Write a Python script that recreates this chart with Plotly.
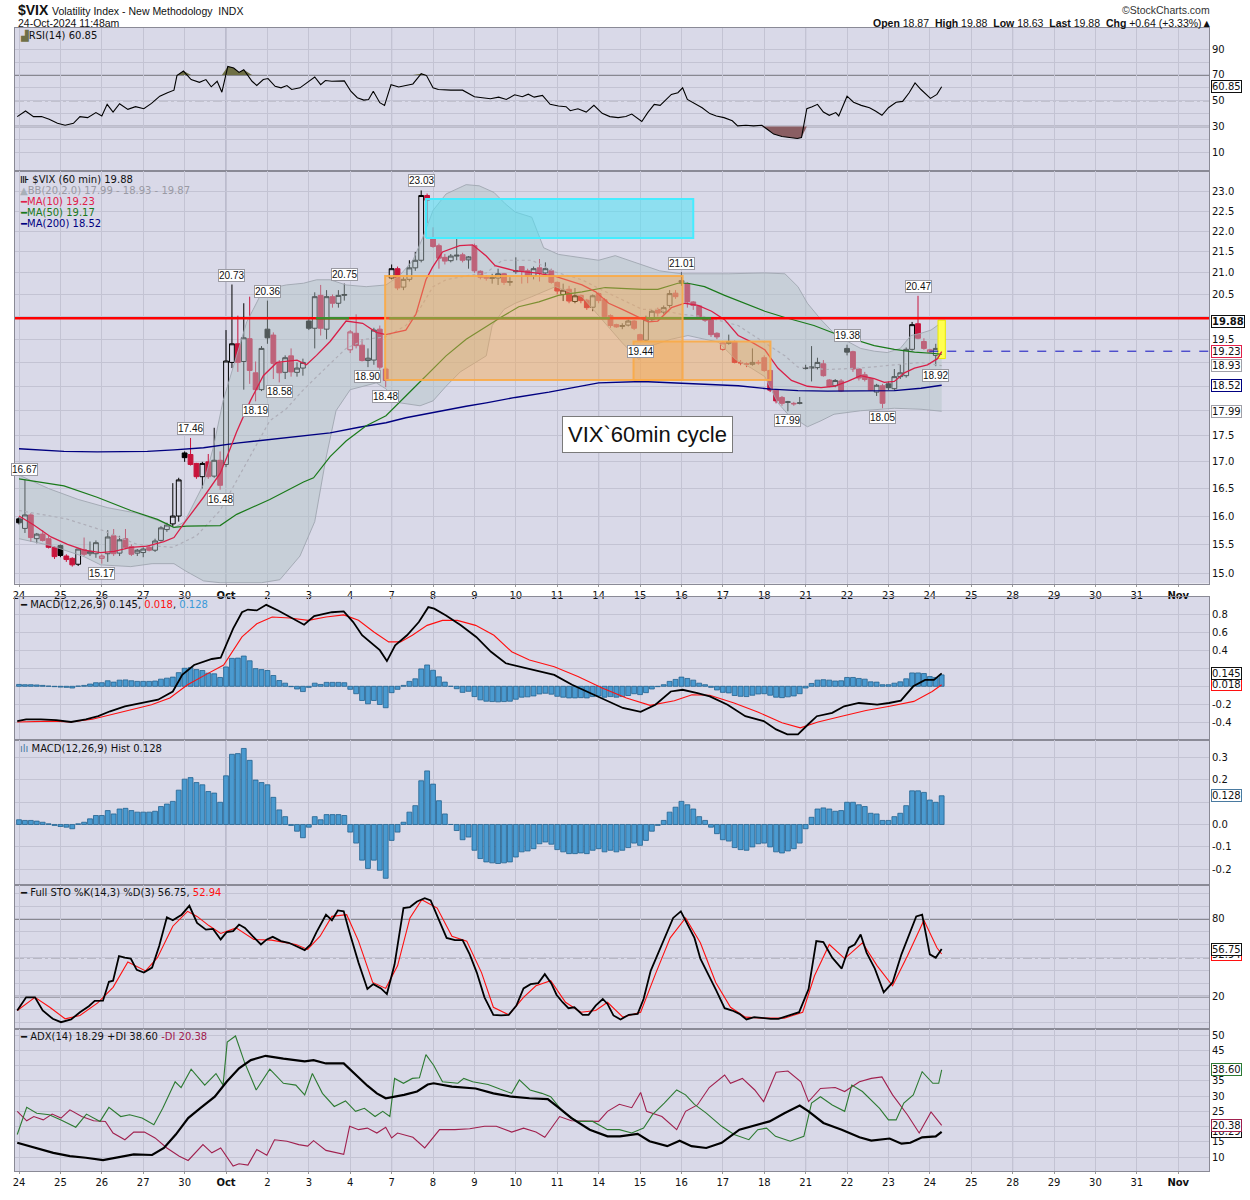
import numpy as np
import plotly.graph_objects as go

# ============================ DATA ============================
day_labels = ["24", "25", "26", "27", "30", "Oct", "2", "3", "4", "7", "8", "9", "10", "11",
              "14", "15", "16", "17", "18", "21", "22", "23", "24", "25", "28", "29", "30", "31", "Nov"]
bold_labels = ["Oct", "Nov"]
strong_labels = ["Oct", "7", "14", "21", "28"]
bars_per_day = 7

# 60-min OHLC of $VIX (one row = one trading day)
open_ = [15.95, 15.78, 16.02, 15.60, 15.68, 15.60, 15.45,
         15.48, 15.30, 15.26, 15.16, 15.41, 15.34, 15.34,
         15.26, 15.34, 15.65, 15.35, 15.60, 15.46, 15.35,
         15.36, 15.45, 15.40, 15.57, 15.76, 15.86, 16.00,
         17.17, 17.14, 16.97, 16.72, 17.00, 16.73, 17.03,
         16.95, 19.00, 19.40, 19.02, 19.51, 18.78, 18.43,
         19.72, 19.59, 18.99, 18.79, 19.14, 18.79, 18.88,
         19.90, 19.74, 20.48, 19.72, 20.45, 20.30, 20.48,
         19.27, 19.63, 19.37, 19.04, 19.05, 19.72, 18.86,
         20.88, 21.10, 20.67, 20.85, 21.12, 21.30, 22.90,
         21.82, 21.65, 21.37, 21.29, 21.40, 21.43, 21.31,
         21.65, 21.04, 20.90, 20.87, 20.88, 20.98, 20.78,
         21.03, 21.15, 21.05, 20.93, 21.12, 21.00, 21.05,
         20.78, 20.50, 20.62, 20.34, 20.48, 20.37, 20.21,
         20.52, 20.38, 20.02, 19.82, 19.78, 19.81, 19.90,
         19.60, 19.48, 19.93, 20.16, 20.10, 20.25, 20.53,
         20.82, 20.75, 20.33, 20.24, 19.95, 19.93, 19.63,
         19.28, 19.41, 19.45, 19.00, 18.97, 18.96, 19.00,
         19.10, 18.83, 18.42, 18.27, 18.17, 18.15, 18.15,
         18.87, 18.88, 18.89, 18.97, 18.63, 18.51, 18.61,
         19.30, 19.23, 18.86, 18.74, 18.66, 18.38, 18.51,
         18.55, 18.45, 18.70, 18.72, 19.28, 19.84, 19.45,
         19.22, 19.15, 19.30]
high_ = [15.98, 16.67, 16.05, 15.70, 15.75, 15.65, 15.47,
         15.50, 15.33, 15.28, 15.43, 15.62, 15.55, 15.57,
         15.33, 15.75, 15.77, 15.65, 15.77, 15.50, 15.42,
         15.45, 15.47, 15.60, 15.82, 15.88, 16.60, 16.70,
         17.20, 17.46, 16.98, 17.00, 17.15, 17.66, 17.20,
         19.70, 20.73, 20.02, 20.30, 20.45, 19.02, 19.35,
         20.36, 19.65, 19.05, 19.15, 19.30, 19.00, 19.08,
         19.95, 20.55, 20.72, 20.60, 20.50, 20.60, 20.75,
         19.70, 20.05, 19.50, 19.30, 19.75, 19.80, 18.90,
         21.20, 21.15, 20.90, 21.30, 21.50, 23.03, 22.95,
         22.10, 21.70, 21.45, 21.45, 21.83, 21.48, 21.40,
         21.70, 21.06, 20.95, 20.98, 21.10, 21.00, 20.90,
         21.37, 21.16, 21.10, 21.15, 21.33, 21.25, 21.10,
         20.80, 20.75, 20.70, 20.65, 20.50, 20.40, 20.50,
         20.55, 20.42, 20.05, 19.84, 19.85, 19.93, 19.92,
         19.62, 20.02, 20.15, 20.20, 20.25, 20.60, 20.60,
         21.01, 20.78, 20.35, 20.26, 19.97, 19.95, 19.65,
         19.45, 19.60, 19.47, 19.05, 19.00, 19.30, 19.05,
         19.15, 18.85, 18.44, 18.30, 18.20, 18.18, 18.28,
         18.95, 19.35, 19.10, 19.05, 18.65, 18.65, 18.65,
         19.38, 19.25, 18.88, 18.80, 18.68, 18.55, 18.55,
         18.60, 18.86, 18.95, 19.32, 19.88, 20.47, 19.52,
         19.29, 19.40, 19.88]
low_ = [15.85, 15.70, 15.55, 15.52, 15.55, 15.43, 15.25,
        15.28, 15.20, 15.12, 15.13, 15.30, 15.30, 15.27,
        15.17, 15.20, 15.30, 15.30, 15.42, 15.30, 15.30,
        15.28, 15.38, 15.37, 15.55, 15.72, 15.82, 15.90,
        17.00, 16.93, 16.68, 16.50, 16.68, 16.70, 16.48,
        16.90, 18.88, 18.80, 18.43, 18.55, 18.19, 18.40,
        19.40, 18.65, 18.58, 18.65, 18.70, 18.70, 18.72,
        19.70, 19.30, 19.58, 19.50, 20.20, 20.20, 20.36,
        19.20, 19.30, 19.02, 18.90, 18.95, 18.85, 18.48,
        20.85, 20.60, 20.60, 20.80, 21.05, 21.25, 22.20,
        21.60, 21.10, 21.20, 21.25, 21.30, 21.25, 21.10,
        21.00, 20.85, 20.82, 20.75, 20.72, 20.72, 20.70,
        20.98, 20.75, 20.76, 20.85, 20.80, 20.98, 20.75,
        20.50, 20.35, 20.30, 20.30, 20.30, 20.15, 20.12,
        20.30, 19.95, 19.75, 19.75, 19.72, 19.78, 19.70,
        19.44, 19.45, 19.90, 20.00, 20.05, 20.20, 20.40,
        20.70, 20.20, 20.15, 19.95, 19.88, 19.55, 19.50,
        19.25, 19.38, 18.98, 18.94, 18.90, 18.93, 18.95,
        18.80, 18.38, 18.15, 18.10, 17.99, 18.10, 18.13,
        18.85, 18.60, 18.85, 18.70, 18.48, 18.48, 18.38,
        19.15, 18.80, 18.62, 18.60, 18.40, 18.30, 18.05,
        18.42, 18.42, 18.65, 18.68, 19.25, 19.50, 19.27,
        19.20, 18.92, 19.12]
close_ = [15.88, 16.02, 15.62, 15.68, 15.57, 15.45, 15.29,
          15.31, 15.24, 15.15, 15.42, 15.33, 15.38, 15.53,
          15.30, 15.63, 15.34, 15.58, 15.45, 15.33, 15.40,
          15.42, 15.40, 15.56, 15.79, 15.84, 16.00, 16.66,
          17.08, 16.95, 16.72, 16.97, 16.72, 17.03, 16.56,
          19.03, 19.40, 19.00, 19.53, 18.83, 18.43, 19.30,
          19.53, 18.98, 18.78, 19.10, 18.80, 18.88, 19.00,
          19.74, 20.45, 19.74, 20.45, 20.30, 20.48, 20.50,
          19.66, 19.36, 19.04, 19.09, 19.70, 18.90, 18.62,
          21.10, 20.65, 20.85, 21.12, 21.30, 22.90, 22.78,
          21.63, 21.35, 21.28, 21.40, 21.42, 21.30, 21.38,
          21.05, 20.90, 20.88, 20.89, 20.98, 20.78, 20.80,
          21.05, 21.04, 20.93, 21.10, 21.00, 21.10, 20.78,
          20.58, 20.60, 20.35, 20.47, 20.36, 20.20, 20.47,
          20.36, 20.00, 19.80, 19.77, 19.80, 19.90, 19.74,
          19.47, 19.93, 20.12, 20.08, 20.20, 20.52, 20.45,
          20.78, 20.33, 20.25, 20.00, 19.92, 19.60, 19.55,
          19.42, 19.45, 19.00, 18.99, 18.96, 19.00, 18.99,
          18.83, 18.42, 18.20, 18.15, 18.18, 18.14, 18.16,
          18.88, 18.90, 19.00, 18.72, 18.50, 18.62, 18.40,
          19.22, 18.86, 18.67, 18.64, 18.42, 18.52, 18.15,
          18.47, 18.70, 18.78, 19.28, 19.82, 19.52, 19.30,
          19.27, 19.30, 19.88]

# overlay lines: (bar position, value)
ma10_pts = [(0, 16.0), (2.5, 15.84), (5.4, 15.63), (8.2, 15.5), (11, 15.4), (13.8, 15.36), (16.1, 15.38),
            (18.9, 15.45), (21.7, 15.47), (24.5, 15.55), (26.2, 15.62), (28.1, 15.9), (31.2, 16.34),
            (34.0, 16.78), (35.1, 17.08), (36.8, 17.58), (39.1, 18.2), (41.3, 18.72), (43.6, 19.0),
            (47.0, 19.05), (48.6, 18.95), (50.3, 19.15), (52.6, 19.45), (55.3, 19.9), (58.1, 19.85),
            (60.4, 19.65), (62.0, 19.6), (63.2, 19.63), (65.4, 19.7), (67.1, 20.05), (68.8, 20.84),
            (69.9, 21.13), (71.6, 21.5), (74.5, 21.65), (76.7, 21.67), (79.0, 21.4), (80.5, 21.17),
            (83.9, 21.05), (87.3, 21.0), (90.7, 20.92), (92.9, 20.83), (95.2, 20.72), (97.5, 20.56),
            (99.7, 20.3), (102.0, 20.16), (104.8, 19.98), (106.4, 19.88), (108.0, 19.9), (110.3, 20.2),
            (112.6, 20.3), (114.8, 20.25), (117.1, 20.12), (119.3, 19.93), (121.6, 19.58), (123.8, 19.44),
            (126.1, 19.27), (128.3, 18.88), (130.6, 18.62), (133.3, 18.5), (135.6, 18.47), (137.8, 18.5),
            (140.1, 18.6), (142.3, 18.72), (144.6, 18.66), (146.3, 18.58), (148.0, 18.6), (149.7, 18.78),
            (151.4, 18.88), (153.6, 18.95), (155.3, 19.08), (156, 19.23)]
ma50_pts = [(0, 16.68), (7.6, 16.55), (13.2, 16.34), (18.9, 16.1), (23.4, 15.94), (26.2, 15.8), (28.3, 15.82),
            (34, 15.83), (36.8, 16.03), (42.4, 16.3), (48.1, 16.62), (49.8, 16.7), (52.6, 17.1), (55.3, 17.4),
            (58.7, 17.7), (62.05, 17.9), (65.4, 18.3), (68.8, 18.72), (72.2, 19.14), (75.6, 19.5), (79, 19.78),
            (81.7, 20.0), (84.5, 20.22), (87.9, 20.33), (91.2, 20.48), (95.2, 20.56), (99.1, 20.66),
            (102, 20.64), (105.4, 20.62), (108, 20.62), (111.4, 20.76), (113.1, 20.76), (115.9, 20.68),
            (119.3, 20.48), (122.7, 20.3), (126.1, 20.12), (129.5, 19.98), (131.7, 19.9), (134.4, 19.8),
            (137.8, 19.63), (141.2, 19.5), (144.6, 19.36), (148, 19.28), (151.4, 19.22), (154.8, 19.19),
            (156, 19.17)]
ma200_pts = [(0, 17.25), (7.6, 17.2), (13.2, 17.19), (21.7, 17.2), (26.2, 17.23), (31.2, 17.27), (36.8, 17.36),
             (42.4, 17.43), (48.1, 17.5), (52.6, 17.56), (57.5, 17.67), (62.05, 17.76), (65.4, 17.86),
             (68.8, 17.94), (72.2, 18.02), (75.6, 18.09), (79, 18.16), (83.9, 18.27), (89.6, 18.38),
             (95.2, 18.51), (98, 18.57), (105.4, 18.6), (109.6, 18.58), (115.9, 18.55), (121.6, 18.51),
             (127.2, 18.44), (131.7, 18.41), (136.7, 18.4), (145.1, 18.4), (148, 18.41), (152.5, 18.46),
             (156, 18.52)]
bb_upper_pts = [(0, 16.75), (5, 16.5), (10, 16.3), (15, 16.15), (20, 16.05), (24, 15.9), (26.2, 15.79),
                (28, 15.9), (31.2, 16.58), (32.9, 17.3), (34.5, 18.2), (36.8, 19.14), (38.5, 19.88),
                (39.6, 20.16), (40.8, 20.48), (42.4, 20.64), (45.2, 20.72), (48.1, 20.76), (50.3, 20.84),
                (52.6, 20.84), (55.3, 20.72), (58.7, 20.68), (62.05, 20.72), (64.3, 20.93), (66.6, 21.3),
                (68.3, 21.86), (70, 22.52), (72.2, 22.94), (75.6, 23.18), (77.8, 23.15), (79, 23.07),
                (80.3, 22.98), (82.2, 22.69), (83.9, 22.48), (86.7, 22.35), (88.7, 21.6), (91.2, 21.44),
                (98, 21.3), (100.8, 21.41), (105.4, 21.2), (108.3, 21.05), (112, 20.98), (120, 20.98),
                (126, 21.0), (129.5, 20.98), (131.7, 20.68), (133.3, 20.3), (135.6, 19.93), (137.8, 19.63),
                (140.1, 19.45), (142.3, 19.3), (144.6, 19.24), (146.8, 19.21), (149, 19.3), (150.8, 19.58),
                (152.5, 19.63), (154.2, 19.7), (156, 19.87)]
bb_lower_pts = [(0, 15.6), (5.35, 15.48), (11, 15.29), (13.8, 15.15), (18.9, 15.12), (22.5, 15.17),
                (26.2, 15.17), (28.1, 15.05), (31.2, 14.88), (34, 14.85), (41, 14.85), (44.1, 14.9),
                (47.5, 15.3), (50, 15.9), (51.9, 17.07), (53.6, 18.0), (56, 18.43), (60.4, 18.57), (62, 18.45),
                (64.4, 18.16), (67.8, 18.1), (70, 18.2), (72.2, 18.5), (74.6, 18.8), (79, 19.14), (80, 19.8),
                (82, 20.16), (83.9, 20.3), (86.7, 20.45), (90.7, 20.68), (95.2, 20.45), (98.6, 19.93),
                (102, 19.42), (104.8, 19.06), (106.9, 19.36), (110.3, 19.5), (113.1, 19.58), (115.9, 19.5),
                (118.2, 19.44), (121.2, 19.06), (123.8, 18.88), (126.1, 18.7), (128.3, 18.16), (130, 17.93),
                (131.7, 17.8), (133.3, 17.68), (135.6, 17.8), (137.8, 17.93), (142.3, 18.0), (148, 18.05),
                (152.5, 18.03), (156, 17.99)]
bb_mid_pts = [(0, 16.1), (8, 15.95), (14, 15.75), (20, 15.5), (26, 15.45), (30, 15.65), (34, 16.1), (38.5, 17.0),
              (42.4, 17.8), (45.2, 18.04), (48.1, 18.43), (52, 18.9), (55.3, 19.3), (58.7, 19.5), (62, 19.55),
              (65.4, 19.8), (67.7, 20.16), (70, 20.68), (72.2, 20.84), (75.6, 20.93), (79, 21.0), (81.7, 21.3),
              (86.7, 21.3), (90.7, 21.02), (95.2, 20.84), (98.6, 20.6), (102, 20.38), (105.4, 20.16),
              (108, 20.16), (112, 20.05), (115.9, 20.0), (121.6, 19.8), (126.1, 19.42), (129.5, 19.14),
              (131.7, 18.9), (133.3, 18.88), (136.7, 18.85), (142.3, 18.88), (148, 18.95), (152.5, 19.0),
              (156, 18.93)]

resistance_level = 19.96
# parts of the level drawn in green (start bar, end bar)
green_seg_x0 = [50.2, 62.6, 106.0]
green_seg_x1 = [55.8, 99.9, 117.0]
prev_close = 19.24

# annotated zones: start bar, end bar, low, high
zone_x0 = [61.9, 103.9, 68.8]
zone_x1 = [112.2, 127.05, 114.0]
zone_lo = [18.63, 18.63, 21.84]
zone_hi = [20.93, 19.45, 22.81]

note_text = "VIX`60min cycle"
note_pos = (106.3, 17.53)

# price callouts (bar, value, side)
callout_bar = [1, 14, 29, 34, 36, 40, 42, 44, 55, 59, 62, 68, 105, 112, 130, 140, 146, 152, 155]
callout_val = [16.67, 15.17, 17.46, 16.48, 20.73, 18.19, 20.36, 18.58, 20.75, 18.90, 18.48, 23.03, 19.44,
               21.01, 17.99, 19.38, 18.05, 20.47, 18.92]
callout_side = ["hi", "lo", "hi", "lo", "hi", "lo", "hi", "lo", "hi", "lo", "lo", "hi", "lo", "hi", "lo",
                "hi", "lo", "hi", "lo"]

rsi_pts = [(-0.3, 37.7), (1.1, 42), (2.45, 37.7), (3.8, 37.7), (5.1, 35.6), (6.5, 32.5), (7.8, 31), (9.2, 32.5),
           (10.3, 37.7), (11.6, 36.9), (13, 40.8), (14, 38.2), (14.9, 47.2), (15.9, 41.2), (17, 47.7),
           (18.4, 43.3), (19.7, 45.4), (21.1, 43.8), (22.4, 47.9), (23.8, 53.5), (25.1, 56.2), (26.2, 58.2),
           (26.7, 69.5), (27.8, 73), (29.1, 66.4), (30.5, 64.3), (31.6, 66.4), (32.5, 60.8), (33.5, 65.1),
           (34.3, 56.6), (35.3, 76.6), (36.3, 75.4), (37.2, 72), (38, 74), (39.4, 65.1), (40.2, 61.8),
           (41.3, 66.4), (42.1, 67.2), (43.3, 61.2), (44.3, 60), (45.3, 61.8), (46.1, 58.7), (47.5, 60),
           (48.7, 63.8), (50, 68.4), (51, 62.5), (51.8, 65.7), (52.9, 65.1), (55, 65.4), (56.1, 57.4),
           (57.2, 52.3), (58.3, 50.5), (59.1, 51), (59.9, 57.4), (61, 48.5), (61.8, 46.4), (62.9, 62.5),
           (64.2, 60.7), (65.6, 62), (66.6, 63), (68, 71), (68.9, 69.5), (70, 60), (70.9, 58.7), (73, 58.2),
           (75, 58.2), (77, 53.1), (78.4, 52), (79.7, 51.5), (81.1, 52.8), (82.4, 51), (83.8, 54.6),
           (85.1, 53.1), (86.1, 55.1), (87.1, 52.8), (88.5, 54.1), (89.8, 47.2), (91.2, 45.9), (92.5, 45.4),
           (93.2, 42.3), (94.5, 43.8), (95.9, 41.2), (97.2, 46.4), (98.6, 40.2), (99.9, 37.7), (101.3, 36.9),
           (102.6, 37.7), (103.6, 39.7), (104.7, 36.2), (105.3, 33.9), (106.3, 40.8), (107.4, 47.2),
           (108.4, 46.4), (109.4, 51), (110.3, 54.9), (111.4, 56.2), (112.2, 60), (113, 51), (114.1, 47.9),
           (115.5, 44.6), (116.8, 40), (117.9, 38.2), (119.2, 36.9), (120.6, 34.4), (121.5, 30.5), (122.9, 31),
           (124.2, 30.5), (125.6, 31), (126.5, 27.9), (127.6, 24.1), (129, 22.3), (130.3, 21.5), (131.6, 20.7),
           (132.3, 21.5), (133.2, 43.8), (134.1, 45.4), (135, 47.2), (136, 41.2), (137, 38.7), (138.1, 40.8),
           (138.6, 38.2), (140, 53.5), (141.1, 48.8), (142.4, 46.4), (143.8, 44.6), (144.8, 42), (145.9, 38.7),
           (147, 44.6), (148.3, 48.8), (149.4, 49.5), (150.5, 56.2), (151.5, 63.8), (152.5, 58.7),
           (154.1, 51.8), (155.2, 54.9), (156, 60.85)]

macd_pts = [(-0.3, -0.39), (1.2, -0.37), (3.7, -0.37), (6.3, -0.38), (8.8, -0.40), (11.3, -0.37), (13.4, -0.335),
            (15.4, -0.28), (17.9, -0.224), (20.5, -0.187), (23.5, -0.15), (26, -0.058), (27.6, 0.128),
            (29.6, 0.239), (32.6, 0.306), (34.1, 0.32), (34.8, 0.424), (36.2, 0.647), (37.7, 0.83), (38.7, 0.86),
            (40.2, 0.85), (41.8, 0.913), (43.8, 0.85), (45.8, 0.776), (48.2, 0.69), (49.9, 0.787), (51.4, 0.81),
            (52.9, 0.83), (54.9, 0.84), (56.5, 0.72), (58, 0.572), (60, 0.46), (61, 0.405), (62.2, 0.283),
            (63.6, 0.46), (65.6, 0.572), (67.6, 0.72), (69.2, 0.887), (70.2, 0.87), (72.2, 0.794), (74.7, 0.683),
            (77.3, 0.553), (79.8, 0.387), (82.3, 0.258), (84.8, 0.22), (87.9, 0.172), (90.5, 0.128),
            (93.5, 0.017), (96.6, -0.076), (99.6, -0.169), (102.1, -0.243), (105.1, -0.287), (107.6, -0.206),
            (110.2, -0.058), (112.2, -0.039), (114.7, -0.076), (116.8, -0.113), (119.8, -0.206),
            (122.8, -0.335), (125.9, -0.39), (128, -0.483), (129.9, -0.539), (131.7, -0.539), (133.4, -0.428),
            (134.9, -0.335), (137.5, -0.298), (139.5, -0.224), (142, -0.187), (145.1, -0.206), (147.1, -0.187),
            (149.1, -0.161), (151.2, 0.0), (153.2, 0.072), (154.7, 0.072), (156, 0.145)]
signal_pts = [(-0.3, -0.40), (5.7, -0.39), (8.7, -0.40), (12.4, -0.37), (17.4, -0.287), (22.4, -0.206),
              (25.5, -0.131), (28.5, 0.017), (31.5, 0.128), (34.6, 0.239), (37.7, 0.553), (40.2, 0.7),
              (42.8, 0.776), (45.8, 0.765), (48.9, 0.739), (51.9, 0.776), (54.9, 0.80), (57.4, 0.739),
              (60, 0.609), (62.5, 0.498), (64.5, 0.498), (66.5, 0.572), (69, 0.683), (71.6, 0.739),
              (74.1, 0.739), (77.2, 0.683), (80.3, 0.572), (83.3, 0.387), (86.3, 0.294), (90.5, 0.22),
              (94.5, 0.109), (98.6, -0.02), (102.7, -0.131), (106.7, -0.213), (110.8, -0.161), (113.8, -0.094),
              (116.8, -0.1), (120.9, -0.187), (124.9, -0.287), (129, -0.409), (132.1, -0.465), (135.1, -0.40),
              (139.1, -0.335), (143.2, -0.272), (147.2, -0.224), (151.3, -0.169), (154.4, -0.058), (156, 0.018)]
macd_hist = [0.021, 0.018, 0.018, 0.015, 0.010, 0.003, -0.004,
             -0.009, -0.012, -0.019, 0.003, 0.010, 0.025, 0.040,
             0.040, 0.062, 0.047, 0.069, 0.072, 0.062, 0.055,
             0.055, 0.055, 0.059, 0.080, 0.091, 0.103, 0.153,
             0.202, 0.209, 0.187, 0.177, 0.147, 0.140, 0.099,
             0.217, 0.313, 0.316, 0.339, 0.286, 0.198, 0.187,
             0.177, 0.121, 0.065, 0.035, -0.004, -0.030, -0.059,
             -0.012, 0.035, 0.021, 0.044, 0.044, 0.044, 0.040,
             -0.034, -0.083, -0.159, -0.196, -0.159, -0.204, -0.240,
             -0.071, -0.034, 0.010, 0.055, 0.084, 0.195, 0.239,
             0.180, 0.106, 0.047, 0.000, -0.027, -0.068, -0.056,
             -0.115, -0.152, -0.167, -0.171, -0.174, -0.171, -0.167,
             -0.145, -0.122, -0.118, -0.108, -0.086, -0.078, -0.088,
             -0.112, -0.122, -0.130, -0.130, -0.127, -0.130, -0.115,
             -0.108, -0.122, -0.115, -0.122, -0.115, -0.103, -0.083,
             -0.093, -0.071, -0.030, -0.004, 0.018, 0.055, 0.077,
             0.103, 0.088, 0.069, 0.035, 0.018, -0.012, -0.041,
             -0.068, -0.074, -0.103, -0.112, -0.115, -0.100, -0.086,
             -0.083, -0.100, -0.122, -0.127, -0.118, -0.108, -0.083,
             -0.019, 0.032, 0.069, 0.074, 0.069, 0.059, 0.062,
             0.099, 0.099, 0.088, 0.080, 0.050, 0.047, 0.018,
             0.018, 0.035, 0.050, 0.084, 0.150, 0.150, 0.143,
             0.109, 0.099, 0.128]

sto_k_pts = [(-0.3, 9.3), (1.2, 19.5), (2.7, 19.5), (4.0, 9.3), (5.7, 2.9), (7.1, 0.3), (8.8, 2.4), (10.3, 8),
             (11.8, 12.6), (12.8, 16.7), (14.2, 16.9), (15.2, 31.5), (15.9, 32.3), (16.9, 51.4), (17.9, 50.1),
             (18.9, 49.4), (19.9, 40.7), (21.1, 38.6), (22.5, 42.5), (23.7, 59.1), (25, 81.3), (26, 79),
             (27.5, 83.3), (28.8, 90.2), (30.1, 76.9), (31.6, 71.8), (32.8, 72.3), (34.1, 64.2), (35.1, 69.8),
             (36.2, 70.6), (37.2, 75.7), (38.2, 73.1), (39.5, 66.7), (40.9, 60.3), (41.9, 64.2), (42.9, 66.2),
             (44.3, 62.9), (45.6, 61.6), (46.8, 59.1), (48.3, 56), (49.3, 60.3), (50.3, 69.8), (51.9, 83.3),
             (52.9, 79), (53.9, 86.6), (54.9, 85.9), (55.9, 69.3), (57.4, 46.3), (58.9, 25.9), (59.9, 29.7),
             (61.2, 26.4), (62.2, 22), (63.5, 45), (65, 88.4), (66.1, 89.2), (67.3, 93.5), (68.6, 96.1),
             (69.6, 94.3), (71.1, 78.2), (72.3, 65.4), (73.7, 63.7), (75, 63.7), (76.2, 52.7), (77.4, 38.6),
             (78.7, 19.5), (80.2, 6), (81.5, 5.5), (82.8, 6), (84.1, 13.1), (85.3, 26.4), (86.5, 29.7),
             (87.8, 30.5), (88.9, 37.4), (90, 30.2), (90.9, 21.3), (91.9, 15.7), (92.9, 11.1), (93.9, 11.8),
             (95.3, 6), (96.3, 6), (97.5, 13.1), (98.7, 18.2), (99.5, 14.4), (100.5, 5.5), (101.7, 2.4),
             (103.1, 6), (104.6, 6.7), (105.6, 18.2), (106.8, 39.9), (108.1, 53.9), (109.4, 69.3), (110.6, 80.8),
             (111.9, 85.9), (112.9, 76.9), (114.2, 65.4), (115.2, 49.4), (116.7, 36.1), (117.9, 24.6),
             (119.3, 11.1), (120.6, 9.3), (121.8, 6.7), (123, 2.4), (124.3, 4.2), (125.9, 3.4), (127.1, 2.9),
             (128.4, 2.9), (129.9, 4.9), (131.9, 8), (133.5, 25.9), (134.8, 62.9), (136, 62.1), (137.5, 50.1),
             (139.1, 41.7), (140.3, 57.8), (141.3, 60.3), (142.3, 68), (143.3, 54), (144.7, 41.7), (146.2, 23.3),
             (147.7, 31), (149.2, 52.7), (150.7, 70.6), (151.7, 82), (152.7, 83.3), (154.0, 52.7), (155.0, 50.1),
             (156, 56.75)]
sto_d_pts = [(-0.3, 9.3), (2.7, 19.5), (5.2, 11.8), (7.8, 2.9), (10.3, 5.5), (13.3, 15.2), (15.9, 27.2),
             (18.4, 46.8), (21.4, 39.9), (23.4, 50.1), (26, 74.4), (28.5, 85.9), (30.1, 82), (32.1, 74.9),
             (34.1, 68.8), (36.7, 73.1), (39.7, 64.2), (42.7, 63.7), (46.8, 60.3), (48.8, 56.5), (50.9, 66.7),
             (52.9, 82), (55.4, 83.3), (57.4, 62.9), (59.8, 31), (62, 26.4), (64, 43.8), (66.1, 80.8),
             (68.1, 94.8), (70.7, 88.4), (73.2, 66.7), (75.7, 62.9), (78.2, 38.6), (80.2, 11.8), (82.8, 6),
             (85.3, 19.5), (87.4, 28.4), (89.9, 32.3), (92.4, 15.7), (95, 8), (97.5, 9.3), (99.5, 15.7),
             (102.1, 4.2), (105.1, 8), (107.6, 37.4), (110.1, 65.4), (112.7, 80.8), (115.2, 61.6), (117.8, 31),
             (120.3, 11.8), (122.8, 4.2), (125.9, 3.4), (129.4, 3.4), (132.5, 8), (134.5, 36.1), (137, 60.3),
             (139.6, 49.4), (142.6, 61.6), (145.1, 43.8), (147.7, 28.4), (150.2, 51.4), (153, 79), (155.2, 57.8),
             (156, 52.94)]

adx_pts = [(-0.3, 14.7), (2.7, 13.0), (5.8, 11.4), (8.6, 10.3), (11.3, 9.8), (14.2, 9.0), (16.9, 10.0),
           (19.4, 10.9), (22.5, 10.7), (24.5, 13.0), (26.5, 17.4), (28.6, 22.8), (30.6, 26.0), (33.1, 29.8),
           (35.1, 34.7), (37.2, 39.1), (39.2, 41.8), (41.7, 43.2), (44.7, 42.3), (48.3, 41.4), (49.8, 41.8),
           (51.9, 40.7), (54.9, 40.7), (56.4, 38), (58.9, 33.4), (60.5, 30.9), (62, 29.3), (65.1, 30.4),
           (67.3, 31.5), (69.1, 33.8), (70.1, 34.2), (73.2, 33.1), (77.2, 32.5), (80.2, 30.9), (83.3, 29.8),
           (86.3, 29.3), (89.4, 29), (91.4, 26), (93.4, 22.8), (96.5, 19), (99.5, 16.8), (101.6, 16.8),
           (104.6, 17.6), (106.6, 15.2), (109.6, 13.6), (111.7, 15.4), (113.7, 13.6), (116.2, 13.0),
           (118.8, 14.7), (121.8, 19), (124.8, 20.6), (126.9, 21.7), (129.4, 24.4), (132, 26.9), (133.5, 25),
           (136, 21.2), (139.1, 19), (142.1, 16.5), (144.1, 15.4), (147.2, 16.1), (149.2, 14.4), (150.7, 14.7),
           (152.7, 16.5), (155, 16.8), (156, 18.29)]
pdi_pts = [(-0.3, 17.4), (1.3, 26.3), (3.0, 24.4), (5.1, 23.9), (7.1, 22.2), (9.6, 19.8), (11.4, 24.1),
           (13.7, 21.7), (15.2, 26.3), (17.2, 23.3), (18.7, 23.9), (20.8, 22.8), (22.8, 20.6), (24.3, 26),
           (26.4, 34.7), (27.4, 32.8), (29.1, 38.8), (31.4, 33.6), (33.3, 37.4), (34.5, 33.6), (35.2, 47.7),
           (36.6, 49.7), (38.1, 41.2), (40.1, 32), (42.4, 38.8), (44.7, 34.2), (46.8, 33.6), (48.3, 30.4),
           (49.6, 37.4), (51.3, 30.9), (53.3, 26.6), (55.2, 28.4), (56.9, 25), (58.4, 26), (60.2, 23.3),
           (61.5, 25), (62.7, 23.3), (63.5, 35.8), (65, 34.2), (66.5, 35.8), (67.7, 36), (68.8, 43.6),
           (70.1, 40.1), (71.6, 34.7), (74.2, 34.2), (75.2, 35.8), (76.7, 34.7), (79.3, 33.8), (81.3, 32.3),
           (83.3, 30.9), (84.6, 35.3), (86.4, 32), (88.4, 30.9), (89.9, 29.8), (91.9, 25), (94.4, 21.7),
           (97, 21.7), (99.5, 19), (101.5, 19), (103.6, 17.9), (105.6, 19.5), (107.1, 23.9), (109.1, 27.7),
           (111.2, 32), (112.7, 30.4), (114.2, 27.3), (116.2, 24.4), (118.8, 20.1), (120.9, 17.4),
           (123.4, 15.7), (124.9, 19), (126.4, 19.5), (127.9, 16.8), (130.4, 15.2), (132.7, 16.8), (134, 27.7),
           (135.5, 29.8), (137.5, 27.1), (139.6, 25), (140.8, 33.6), (142.6, 31.5), (145.5, 26), (147.0, 22.2),
           (148.3, 22.2), (149.6, 27.7), (151.2, 30.4), (152.7, 38), (154.5, 34.2), (155.5, 34.2), (156, 38.6)]
mdi_pts = [(-0.3, 25), (1.3, 21.9), (2.5, 23.3), (4.1, 22.2), (5.6, 24.1), (7.1, 22.8), (8.6, 25.5), (10.6, 23.3),
           (12.6, 21.9), (14.6, 21.7), (15.9, 17.9), (17.9, 15.7), (19.4, 18.2), (21.2, 18.2), (23.0, 16.3),
           (25, 13), (27.1, 10.3), (28.6, 8.9), (31.1, 14.1), (32.6, 11.4), (34.1, 13), (36.2, 7.1), (37.2, 7.8),
           (38.7, 7.4), (40.2, 12.5), (41.9, 10.6), (43.2, 15.7), (45.3, 15.2), (47.3, 14.1), (48.8, 13.6),
           (49.8, 15.4), (51.9, 12.2), (54.9, 10.9), (55.9, 20.1), (57.4, 19), (58.9, 19.5), (60.5, 17.9),
           (62, 19.8), (63.0, 16.3), (64, 17.9), (66.6, 16.5), (68.6, 13), (71.1, 19), (73.7, 19), (76.2, 19.3),
           (78.7, 20.1), (80.7, 20.1), (83.3, 18.2), (85.3, 19.5), (87.4, 18.2), (88.9, 16.5), (91.4, 23.3),
           (93.4, 21.9), (96.5, 21.7), (98.0, 21.7), (99.5, 25), (101.5, 27.3), (103.6, 26.2), (105.1, 31.2),
           (106.1, 25), (108.7, 23.3), (111.2, 19), (112.7, 25), (114.7, 27.1), (116.7, 32.8), (119.3, 36.9),
           (120.3, 34.2), (122.3, 35.8), (124.4, 32), (125.9, 28.2), (128, 37.8), (130, 38.2), (132.2, 34.7),
           (133.5, 28.2), (135.5, 32.5), (138.0, 32.8), (139.6, 31.5), (142.1, 34.7), (144.1, 35.8),
           (145.9, 36.3), (147.7, 30.4), (150.2, 23.9), (152.2, 17.9), (154.2, 24.8), (156, 20.38)]

# ============================ STYLE / LAYOUT ============================
W, H = 1250, 1200
ML, MR, MT, MB = 15, 41, 28, 20
PW, PH = W - ML - MR, H - MT - MB
BG = "#d9d9e8"
GRID = "#c3c3d3"
STRONG = "#9c9cb0"
BORDER = "#8a8a96"
FONT = "DejaVu Sans"
NARROW = "Liberation Sans Narrow, Liberation Sans, Arial"
RED = "#c8143c"
X_LO, X_HI = -0.68, 201.2


def px(x):
    return (x - ML) / PW


def py(y):
    return (H - MB - y) / PH


def dom(top, bot):
    return [py(bot), py(top)]


panels = {  # name: (axis number, top px, bottom px)
    "rsi": (1, 28, 172), "main": (2, 172, 588), "macd": (3, 601, 746),
    "hist": (4, 746, 892), "sto": (5, 892, 1037), "adx": (6, 1037, 1180)}


def ax_ids(n):
    return ("x" if n == 1 else f"x{n}"), ("y" if n == 1 else f"y{n}")


def unzip(pts):
    return [p[0] for p in pts], [p[1] for p in pts]


fig = go.Figure()


def add(tr, panel):
    xa, ya = ax_ids(panels[panel][0])
    tr.update(xaxis=xa, yaxis=ya, showlegend=False, hoverinfo="skip")
    fig.add_trace(tr)


# ---------------- RSI ----------------
rx, ry = unzip(rsi_pts)
ry_a = np.array(ry)
add(go.Scatter(x=rx, y=[70] * len(rx), mode="lines", line=dict(width=0)), "rsi")
add(go.Scatter(x=rx, y=np.maximum(ry_a, 70), mode="lines", line=dict(width=0), fill="tonexty",
               fillcolor="#6f7046"), "rsi")
add(go.Scatter(x=rx, y=[30] * len(rx), mode="lines", line=dict(width=0)), "rsi")
add(go.Scatter(x=rx, y=np.minimum(ry_a, 30), mode="lines", line=dict(width=0), fill="tonexty",
               fillcolor="#8a5e63"), "rsi")
add(go.Scatter(x=rx, y=ry, mode="lines", line=dict(color="black", width=1.1)), "rsi")

# ---------------- MAIN ----------------
ux, uy = unzip(bb_upper_pts)
lx, ly = unzip(bb_lower_pts)
add(go.Scatter(x=ux + lx[::-1], y=uy + ly[::-1], mode="lines", fill="toself",
               fillcolor="rgba(178,196,198,0.45)", line=dict(width=0)), "main")
add(go.Scatter(x=ux, y=uy, mode="lines", line=dict(color="rgba(160,166,176,0.9)", width=1)), "main")
add(go.Scatter(x=lx, y=ly, mode="lines", line=dict(color="rgba(160,166,176,0.9)", width=1)), "main")
mx, my = unzip(bb_mid_pts)
add(go.Scatter(x=mx, y=my, mode="lines", line=dict(color="#aeaeb8", width=1.2, dash="dot")), "main")

# last-bar highlight
lb = len(close_) - 1
add(go.Scatter(x=[lb - 0.62, lb + 0.62, lb + 0.62, lb - 0.62, lb - 0.62],
               y=[low_[lb] * 0.998, low_[lb] * 0.998, high_[lb] * 1.002, high_[lb] * 1.002, low_[lb] * 0.998],
               mode="lines", fill="toself", fillcolor="#ffff50", line=dict(color="#e8e800", width=1)), "main")

n = len(close_)
up_vs_prev = [True] + [close_[i] >= close_[i - 1] for i in range(1, n)]
for group, col in ((True, "#000000"), (False, RED)):
    idx = [i for i in range(n) if up_vs_prev[i] == group]
    add(go.Candlestick(x=idx, open=[open_[i] for i in idx], high=[high_[i] for i in idx],
                       low=[low_[i] for i in idx], close=[close_[i] for i in idx],
                       increasing=dict(line=dict(color=col, width=1), fillcolor=BG),
                       decreasing=dict(line=dict(color=col, width=1), fillcolor=col),
                       whiskerwidth=0), "main")

for pts, col, w in ((ma200_pts, "#000080", 1.4), (ma50_pts, "#1a7a1a", 1.2), (ma10_pts, "#d81f48", 1.3)):
    xx, yy = unzip(pts)
    add(go.Scatter(x=xx, y=yy, mode="lines", line=dict(color=col, width=w)), "main")

add(go.Scatter(x=[X_LO, X_HI], y=[resistance_level] * 2, mode="lines",
               line=dict(color="#ff0000", width=2.5)), "main")
for a, b in zip(green_seg_x0, green_seg_x1):
    add(go.Scatter(x=[a, b], y=[resistance_level] * 2, mode="lines",
                   line=dict(color="#3c8c2c", width=2.5)), "main")
add(go.Scatter(x=[lb - 2.1, X_HI], y=[prev_close] * 2, mode="lines",
               line=dict(color="#1010c0", width=1, dash="dash")), "main")

zone_fill = ["rgba(246,168,80,0.45)", "rgba(246,168,80,0.45)", "rgba(80,228,246,0.55)"]
zone_line = ["rgba(250,170,70,0.9)", "rgba(250,170,70,0.9)", "rgba(70,236,255,1)"]
for k in range(len(zone_x0)):
    a, b, lo, hi = zone_x0[k], zone_x1[k], zone_lo[k], zone_hi[k]
    add(go.Scatter(x=[a, b, b, a, a], y=[lo, lo, hi, hi, lo], mode="lines", fill="toself",
                   fillcolor=zone_fill[k], line=dict(color=zone_line[k], width=2)), "main")

# ---------------- MACD ----------------
bar_x = list(range(len(macd_hist)))
for pn in ("macd", "hist"):
    add(go.Bar(x=bar_x, y=macd_hist, width=0.82,
               marker=dict(color="#4a9ad0", line=dict(color="#22628f", width=0.8))), pn)
sx, sy = unzip(signal_pts)
add(go.Scatter(x=sx, y=sy, mode="lines", line=dict(color="#ff1010", width=1.1)), "macd")
cx, cy = unzip(macd_pts)
add(go.Scatter(x=cx, y=cy, mode="lines", line=dict(color="black", width=1.8)), "macd")

# ---------------- STO ----------------
dx, dy = unzip(sto_d_pts)
add(go.Scatter(x=dx, y=dy, mode="lines", line=dict(color="#ff1010", width=1.1)), "sto")
kx, ky = unzip(sto_k_pts)
add(go.Scatter(x=kx, y=ky, mode="lines", line=dict(color="black", width=1.8)), "sto")

# ---------------- ADX ----------------
for pts, col, w in ((mdi_pts, "#a0204e", 1.1), (pdi_pts, "#2d7a32", 1.1), (adx_pts, "black", 2.2)):
    xx, yy = unzip(pts)
    add(go.Scatter(x=xx, y=yy, mode="lines", line=dict(color=col, width=w)), "adx")

# ---------------- axes ----------------
tick_pos = [k * bars_per_day for k in range(len(day_labels))]
tick_txt = [f"<b>{t}</b>" if t in bold_labels else t for t in day_labels]
strong_pos = [tick_pos[k] for k, t in enumerate(day_labels) if t in strong_labels]

main_ticks = [15 + 0.5 * k for k in range(17)]
main_hidden = [18.0, 18.5, 19.0, 20.0]   # labels covered by value tags
yspec = {
    "rsi": dict(range=[-4.4, 106.4], tickvals=list(range(10, 100, 10)),
                ticktext=["10", "", "30", "", "50", "", "70", "", "90"]),
    "main": dict(type="log", range=[np.log10(14.835), np.log10(23.54)], tickvals=main_ticks,
                 ticktext=["" if v in main_hidden else f"{v:.1f}" for v in main_ticks]),
    "macd": dict(range=[-0.606, 1.006], tickvals=[-0.4, -0.2, 0, 0.2, 0.4, 0.6, 0.8],
                 ticktext=["-0.4", "-0.2", "", "", "0.4", "0.6", "0.8"]),
    "hist": dict(range=[-0.271, 0.375], tickvals=[-0.2, -0.1, 0, 0.1, 0.2, 0.3],
                 ticktext=["-0.2", "-0.1", "0.0", "", "0.2", "0.3"]),
    "sto": dict(range=[-5.06, 106.05], tickvals=list(range(0, 101, 10)),
                ticktext=["", "", "20", "", "", "", "", "", "80", "", ""]),
    "adx": dict(range=[5.45, 51.95], tickvals=list(range(10, 51, 5)),
                ticktext=["10", "15", "", "25", "30", "35", "", "45", "50"]),
}

layout = dict(width=W, height=H, margin=dict(l=ML, r=MR, t=MT, b=MB), paper_bgcolor="white",
              plot_bgcolor=BG, boxgap=0.1, boxgroupgap=0.1, bargap=0.1, barmode="overlay",
              showlegend=False, font=dict(family=FONT, size=10, color="#111"))
shapes = []
for name, (num, top, bot) in panels.items():
    xa, ya = ax_ids(num)
    xkey = "xaxis" if num == 1 else f"xaxis{num}"
    ykey = "yaxis" if num == 1 else f"yaxis{num}"
    layout[xkey] = dict(domain=[0, 1], anchor=ya, range=[X_LO, X_HI], tickvals=tick_pos, ticktext=tick_txt,
                        showgrid=True, gridcolor=GRID, gridwidth=1, zeroline=False, showline=True,
                        linecolor=BORDER, mirror=True, ticks="outside", ticklen=2, tickcolor="#999",
                        showticklabels=name in ("main", "adx"), tickfont=dict(size=10, family=FONT, color="#111"),
                        rangeslider=dict(visible=False), fixedrange=True)
    layout[ykey] = dict(domain=dom(top, bot), anchor=xa, side="right", showgrid=True, gridcolor=GRID,
                        zeroline=False, showline=True, linecolor=BORDER, mirror=True, ticks="",
                        tickfont=dict(size=10, family=FONT, color="#111"), fixedrange=True, **yspec[name])
    for sp in strong_pos:
        shapes.append(dict(type="line", xref=xa, yref=f"{ya} domain", x0=sp, x1=sp, y0=0, y1=1,
                           line=dict(color=STRONG, width=1), layer="below"))

for ya, lvl, dash, wd in (("y", 70, "solid", 1.6), ("y", 30, "solid", 1.6), ("y", 50, "dashdot", 1),
                          ("y5", 80, "solid", 1.6), ("y5", 20, "solid", 1.6), ("y5", 50, "dashdot", 1)):
    shapes.append(dict(type="line", xref="paper", yref=ya, x0=0, x1=1, y0=lvl, y1=lvl,
                       line=dict(color="#6c6c74", width=wd, dash=dash), layer="below"))
layout["shapes"] = shapes

# ---------------- annotations ----------------
ann = []


def txt(x, y, s, size=10, color="#111", family=FONT, xanchor="left", yanchor="middle", **kw):
    ann.append(dict(xref="paper", yref="paper", x=px(x), y=py(y), text=s, showarrow=False,
                    font=dict(size=size, color=color, family=family), xanchor=xanchor, yanchor=yanchor, **kw))


# header
txt(16, 10, "<b>$VIX</b>", size=14, family=NARROW)
txt(50, 11, "Volatility Index - New Methodology  INDX", size=10.5, family=NARROW)
txt(16, 23, "24-Oct-2024 11:48am", size=10.5, family=NARROW)
txt(1212, 10, "©StockCharts.com", size=10.5, family=NARROW, xanchor="right", color="#333")
txt(1214, 23, "<b>Open</b> 18.87  <b>High</b> 19.88  <b>Low</b> 18.63  <b>Last</b> 19.88  <b>Chg</b> +0.64 (+3.33%)▲",
    size=10.5, family=NARROW, xanchor="right")

# panel legends
txt(18, 36, "<span style='color:#6f7046'>▟</span>RSI(14) 60.85")
txt(18, 181, "<b>⊪</b> $VIX (60 min) 19.88")
txt(18, 192, "<span style='color:#a8b0b8'>▲</span>BB(20,2.0) 17.99 - 18.93 - 19.87", color="#9a9aa4")
txt(18, 203, "━MA(10) 19.23", color="#e0204a")
txt(18, 214, "━MA(50) 19.17", color="#1a7a1a")
txt(18, 225, "━MA(200) 18.52", color="#000080")
txt(18, 609, "━ MACD(12,26,9) 0.145, <span style='color:#ff1010'>0.018</span>, "
             "<span style='color:#3a9ad8'>0.128</span>")
txt(18, 754, "<span style='color:#4a7aa0'>ılı</span> MACD(12,26,9) Hist 0.128")
txt(18, 899, "━ Full STO %K(14,3) %D(3) 56.75, <span style='color:#ff1010'>52.94</span>")
txt(18, 1044, "━ ADX(14) 18.29 +DI 38.60 <span style='color:#a0204e'>-DI 20.38</span>")

# right-edge value tags
tags = [("y", 60.85, "60.85", "#111"),
        ("y2", np.log10(17.99), "17.99", "#a0a0a8"), ("y2", np.log10(18.52), "18.52", "#000080"),
        ("y2", np.log10(18.93), "18.93", "#a0a0a8"), ("y2", np.log10(19.23), "19.23", "#e0204a"),
        ("y2", np.log10(19.88), "<b>19.88</b>", "#111"),
        ("y3", 0.018, "0.018", "#ff1010"), ("y3", 0.145, "0.145", "#111"),
        ("y4", 0.128, "0.128", "#4a7aa0"),
        ("y5", 52.94, "52.94", "#ff1010"), ("y5", 56.75, "56.75", "#111"),
        ("y6", 18.29, "18.29", "#111"), ("y6", 20.38, "20.38", "#a0204e"), ("y6", 38.60, "38.60", "#2d7a32")]
for ya, yv, s, col in tags:
    ann.append(dict(xref="paper", yref=ya, x=1.0, y=yv, text=s, showarrow=False, xanchor="left",
                    yanchor="middle", xshift=2, bgcolor="white", bordercolor=col, borderwidth=1, borderpad=0,
                    font=dict(size=10, family=FONT, color="#111")))

# price callouts
for b, v, side in zip(callout_bar, callout_val, callout_side):
    ann.append(dict(xref="x2", yref="y2", x=b, y=np.log10(v), text=f"{v:.2f}", showarrow=False,
                    xanchor="center", yanchor="bottom" if side == "hi" else "top",
                    yshift=3 if side == "hi" else -3, bgcolor="white", bordercolor="#9a9aa2",
                    borderwidth=1, borderpad=0, font=dict(size=10, family=NARROW, color="#111")))

# cycle note
ann.append(dict(xref="x2", yref="y2", x=note_pos[0], y=np.log10(note_pos[1]), text=note_text, showarrow=False,
                xanchor="center", yanchor="middle", bgcolor="white", bordercolor="#7a7a7a", borderwidth=1,
                borderpad=5, font=dict(size=22, family="Liberation Sans, Arial", color="#111")))
layout["annotations"] = ann

fig.update_layout(**layout)
fig.write_html("out.html", config={"displayModeBar": False, "staticPlot": True},
               post_script="document.body.style.margin='0';document.body.style.padding='0';")
